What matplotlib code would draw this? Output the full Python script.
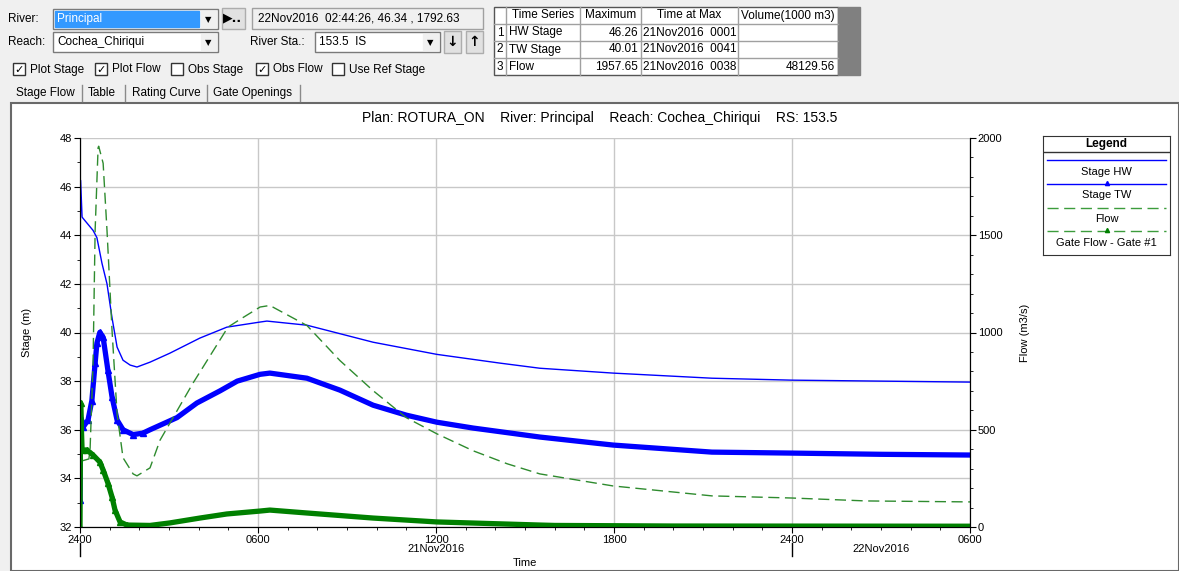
import matplotlib
matplotlib.use('Agg')
import matplotlib.pyplot as plt
from matplotlib.patches import Rectangle
from matplotlib.ticker import MultipleLocator

plt.rcParams['font.family'] = ['Liberation Sans', 'DejaVu Sans']

# hours after 21Nov2016 0000
hw_time = [0, 0.02, 0.07, 0.1, 0.44, 0.57, 0.74, 0.91, 1.08, 1.25, 1.45, 1.69, 1.92, 2.36, 3.03,
           4.04, 4.95, 6.07, 6.3, 7.65, 9.88, 12.03, 14.16, 15.5, 17.97, 21.3, 24.0, 27.0, 30.0]
hw_stage = [42.3, 46.26, 44.75, 44.7, 44.2, 43.9, 42.85, 42.0, 40.6, 39.4, 38.86, 38.66, 38.58, 38.78, 39.15,
            39.77, 40.22, 40.43, 40.47, 40.3, 39.6, 39.1, 38.74, 38.53, 38.33, 38.12, 38.04, 38.0, 37.96]

tw_time = [0, 0.02, 0.07, 0.1, 0.27, 0.4, 0.51, 0.57, 0.67, 0.78, 0.94, 1.08, 1.25, 1.45, 1.79, 2.12, 2.36,
           3.27, 3.94, 4.72, 5.3, 6.07, 6.4, 7.65, 8.76, 9.88, 11.0, 12.03, 13.25, 15.5, 17.97, 21.3, 24.0,
           27.0, 30.0]
tw_stage = [33.1, 36.5, 36.27, 36.1, 36.4, 37.2, 38.74, 39.56, 40.01, 39.8, 38.45, 37.35, 36.4, 36.0, 35.8,
            35.86, 36.0, 36.5, 37.1, 37.6, 38.0, 38.28, 38.33, 38.12, 37.63, 37.01, 36.6, 36.31, 36.07, 35.7,
            35.37, 35.08, 35.04, 34.99, 34.96]

flow_time = [0, 0.07, 0.3, 0.34, 0.44, 0.51, 0.61, 0.63, 0.78, 0.91, 1.08, 1.25, 1.45, 1.79, 1.92, 2.36,
             2.7, 3.81, 4.99, 5.39, 6.07, 6.4, 7.65, 8.76, 9.88, 11.0, 12.03, 13.25, 14.4, 15.5, 17.97,
             21.3, 24.0, 26.5, 30.0]
flow = [0, 340, 350, 400, 840, 1525, 1950, 1957.65, 1870, 1525, 1010, 582, 356, 273, 263, 304,
        447, 740, 1028, 1067, 1131, 1139, 1036, 856, 701, 562, 479, 392, 325, 273, 211,
        160, 149, 134, 129]

gate_time = [0, 0.02, 0.07, 0.24, 0.44, 0.67, 0.78, 0.94, 1.08, 1.18, 1.35, 1.58, 2.36, 3.03, 4.04,
             4.95, 6.07, 6.4, 7.65, 9.88, 12.03, 15.5, 16.0, 20.0, 30.0]
gate_flow = [0, 637, 396, 396, 370, 334, 293, 226, 154, 87, 26, 10, 8, 21, 46,
             67, 82, 87, 72, 46, 26, 10, 8, 5, 4]

x_ticks = [0, 6, 12, 18, 24, 30]
x_labels = ['2400', '0600', '1200', '1800', '2400', '0600']
day_labels = [(12, '21Nov2016'), (27, '22Nov2016')]

table_header = ['', 'Time Series', 'Maximum', 'Time at Max', 'Volume(1000 m3)']
table_rows = [['1', 'HW Stage', '46.26', '21Nov2016  0001', ''],
              ['2', 'TW Stage', '40.01', '21Nov2016  0041', ''],
              ['3', 'Flow', '1957.65', '21Nov2016  0038', '48129.56']]

W, H = 1179, 571
fig = plt.figure(figsize=(W / 100, H / 100), dpi=100, facecolor='#f0f0f0')

# window controls drawn in pixel coordinates
bg = fig.add_axes([0, 0, 1, 1], zorder=0)
bg.set_xlim(0, W)
bg.set_ylim(H, 0)
bg.axis('off')


def box(x, y, w, h, fc='white', ec='#7a7a7a', lw=1):
    bg.add_patch(Rectangle((x, y), w, h, fc=fc, ec=ec, lw=lw))


def label(x, y, s, **kw):
    kw.setdefault('fontsize', 8.5)
    kw.setdefault('va', 'center')
    bg.text(x, y, s, **kw)


def combo(x, y, w, text, selected=False):
    box(x, y, w, 20)
    if selected:
        box(x + 2, y + 2, w - 21, 16, fc='#3399ff', ec='#3399ff')
        label(x + 4, y + 10, text, color='white')
    else:
        label(x + 4, y + 10, text)
    box(x + w - 17, y + 2, 15, 16, fc='#f0f0f0', ec='#f0f0f0')
    label(x + w - 9.5, y + 10.5, '▼', fontsize=6, ha='center', family='DejaVu Sans')


label(8, 19, 'River:')
combo(53, 9, 165, 'Principal', selected=True)
box(222, 8, 23, 21, fc='#e1e1e1', ec='#adadad')
label(233, 18, '▶..', ha='center', family='DejaVu Sans', fontsize=9, fontweight='bold')
box(252, 8, 231, 21, fc='#f0f0f0', ec='#a0a0a0')
label(258, 18.5, '22Nov2016  02:44:26, 46.34 , 1792.63')

label(8, 42, 'Reach:')
combo(53, 32, 165, 'Cochea_Chiriqui')
label(250, 42, 'River Sta.:')
combo(315, 32, 125, '153.5  IS')
box(444, 31, 17, 22, fc='#e1e1e1', ec='#adadad')
label(452.5, 42, '↓', ha='center', family='DejaVu Sans', fontsize=10, fontweight='bold')
box(466, 31, 17, 22, fc='#e1e1e1', ec='#adadad')
label(474.5, 42, '↑', ha='center', family='DejaVu Sans', fontsize=10, fontweight='bold')

for cx, text, checked in [(13, 'Plot Stage', True), (95, 'Plot Flow', True), (171, 'Obs Stage', False),
                          (256, 'Obs Flow', True), (332, 'Use Ref Stage', False)]:
    box(cx, 63, 12, 12, ec='#333333')
    if checked:
        label(cx + 6, 69.5, '✓', ha='center', family='DejaVu Sans', fontsize=8, fontweight='bold')
    label(cx + 17, 69.5, text)

for tx, text in [(16, 'Stage Flow'), (88, 'Table'), (132, 'Rating Curve'), (213, 'Gate Openings')]:
    label(tx, 93, text)
for sx in [82, 125, 207, 300]:
    bg.plot([sx, sx], [85, 101], color='#8a8a8a', lw=1)

# summary table
col_x = [494, 506, 580, 641, 738, 838]
row_y = [7, 24, 41, 58, 75]
box(col_x[0], row_y[0], col_x[-1] - col_x[0], row_y[-1] - row_y[0], ec='#555555')
for xx in col_x[1:-1]:
    bg.plot([xx, xx], [row_y[0], row_y[-1]], color='#a0a0a0', lw=1)
for yy in row_y[1:-1]:
    bg.plot([col_x[0], col_x[-1]], [yy, yy], color='#a0a0a0', lw=1)
box(838, 7, 22, 68, fc='#808080', ec='#808080')
for j, h in enumerate(table_header):
    label((col_x[j] + col_x[j + 1]) / 2, 15.5, h, ha='center')
for i, row in enumerate(table_rows):
    yc = (row_y[i + 1] + row_y[i + 2]) / 2
    label(col_x[0] + 6, yc, row[0], ha='center')
    label(col_x[1] + 3, yc, row[1])
    label(col_x[3] - 3, yc, row[2], ha='right')
    label(col_x[3] + 2, yc, row[3])
    label(col_x[5] - 3, yc, row[4], ha='right')

# chart panel
box(11, 103, W - 11, H - 103, ec='#696969', lw=1.5)
label(600, 118, 'Plan: ROTURA_ON    River: Principal    Reach: Cochea_Chiriqui    RS: 153.5',
      ha='center', fontsize=10)

# stage / flow axes
ax = fig.add_axes([80 / W, 1 - 527 / H, 890 / W, 389 / H], zorder=1)
ax2 = ax.twinx()

ax.plot(hw_time, hw_stage, color='#0000ff', lw=1)
ax.plot(tw_time, tw_stage, color='#0000ff', lw=3.8, marker='^', ms=4, markevery=slice(0, 16))
ax2.plot(flow_time, flow, color='#2e8b2e', lw=1, dashes=(8, 4))
ax2.plot(gate_time, gate_flow, color='#008000', lw=3.8, marker='^', ms=4, markevery=slice(0, 12))

ax.set_xlim(0, 30)
ax.set_ylim(32, 48)
ax2.set_ylim(0, 2000)
ax.set_xticks(x_ticks)
ax.set_xticklabels(x_labels)
ax.xaxis.set_minor_locator(MultipleLocator(1))
ax.yaxis.set_major_locator(MultipleLocator(2))
ax.yaxis.set_minor_locator(MultipleLocator(1))
ax2.yaxis.set_major_locator(MultipleLocator(500))
ax2.yaxis.set_minor_locator(MultipleLocator(100))
for a in (ax, ax2):
    a.tick_params(which='major', length=4, labelsize=8, pad=1.5, color='black')
    a.tick_params(which='minor', length=2.5)
    a.spines['top'].set_visible(False)
ax.grid(True, color='#c8c8c8', lw=1)
ax.set_axisbelow(True)

ax.set_ylabel('Stage (m)', fontsize=8, labelpad=20)
ax2.set_ylabel('Flow (m3/s)', fontsize=8, labelpad=13)

xt = ax.get_xaxis_transform()
for d in [0, 24]:
    ax.plot([d, d], [-0.042, -0.075], transform=xt, color='black', lw=1, clip_on=False)
for d, s in day_labels:
    ax.text(d, -0.057, s, transform=xt, ha='center', va='center', fontsize=8)
ax.text(15, -0.093, 'Time', transform=xt, ha='center', va='center', fontsize=8)

# legend panel
lg = fig.add_axes([1043 / W, 1 - 255 / H, 127 / W, 119 / H], zorder=2)
lg.set_xlim(0, 127)
lg.set_ylim(119, 0)
lg.set_xticks([])
lg.set_yticks([])
for sp in lg.spines.values():
    sp.set_color('#333333')
lg.text(63.5, 8, 'Legend', ha='center', va='center', fontsize=8.5, fontweight='bold')
lg.plot([0, 127], [16, 16], color='#333333', lw=1)
lg.plot([4, 123], [24, 24], color='#0000ff', lw=1)
lg.text(63.5, 36, 'Stage HW', ha='center', va='center', fontsize=8)
lg.plot([4, 123], [48, 48], color='#0000ff', lw=1)
lg.plot([63.5], [47], color='#0000ff', marker='^', ms=3)
lg.text(63.5, 59, 'Stage TW', ha='center', va='center', fontsize=8)
lg.plot([4, 123], [72, 72], color='#3c9c3c', lw=1, dashes=(8, 4))
lg.text(63.5, 83, 'Flow', ha='center', va='center', fontsize=8)
lg.plot([4, 123], [95, 95], color='#3c9c3c', lw=1, dashes=(8, 4))
lg.plot([63.5], [94], color='#008000', marker='^', ms=3)
lg.text(63.5, 107, 'Gate Flow - Gate #1', ha='center', va='center', fontsize=8)

fig.savefig('out.png', dpi=100, facecolor=fig.get_facecolor())
